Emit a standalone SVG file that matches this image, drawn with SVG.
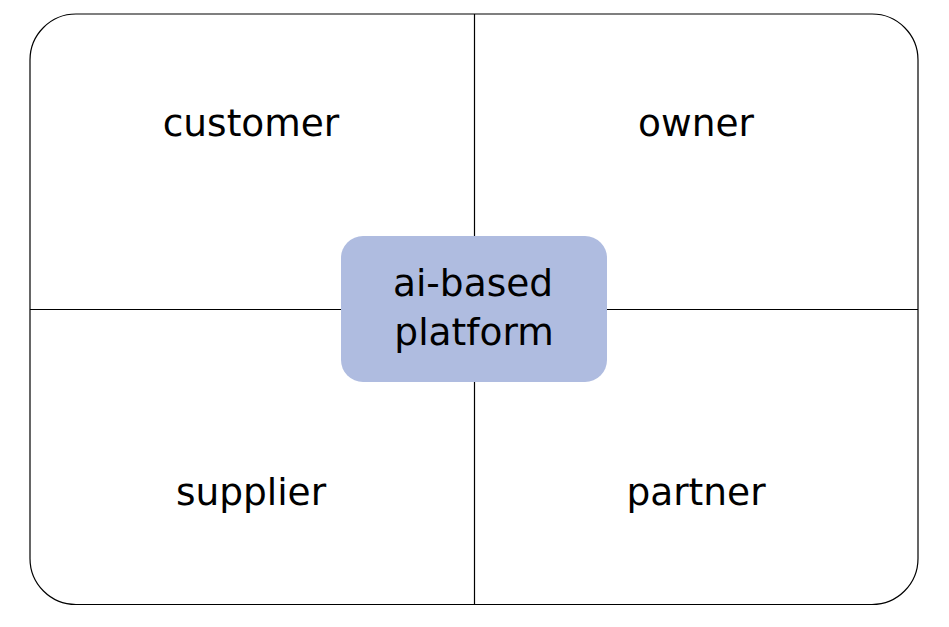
<svg xmlns="http://www.w3.org/2000/svg" width="949" height="627" viewBox="0 0 949 627">
  <style>
    .frame { fill: #ffffff; stroke: #000000; stroke-width: 1.2; }
    .div { stroke: #000000; stroke-width: 1.2; fill: none; }
    .lbl { font-family: "DejaVu Sans", "Open Sans", "Liberation Sans", sans-serif; font-size: 37.5px; fill: #000000; text-anchor: middle; }
    .hub { fill: #AFBCE0; stroke: none; }
  </style>
  <rect width="949" height="627" fill="#ffffff"/>
  <g id="frame">
    <rect class="frame" x="30" y="14" width="888" height="590.5" rx="46" ry="46"/>
  </g>
  <g id="connectors">
    <line class="div" x1="474.5" y1="14" x2="474.5" y2="604.5"/>
    <line class="div" x1="30" y1="309.5" x2="918" y2="309.5"/>
  </g>
  <g id="customer">
    <text class="lbl" x="251" y="136">customer</text>
  </g>
  <g id="owner">
    <text class="lbl" x="696" y="136">owner</text>
  </g>
  <g id="supplier">
    <text class="lbl" x="251" y="505">supplier</text>
  </g>
  <g id="partner">
    <text class="lbl" x="696" y="505">partner</text>
  </g>
  <g id="platform">
    <rect class="hub" x="341" y="236" width="266" height="146" rx="22" ry="22"/>
    <text class="lbl" x="473" y="296">ai-based</text>
    <text class="lbl" x="474" y="345">platform</text>
  </g>
</svg>
